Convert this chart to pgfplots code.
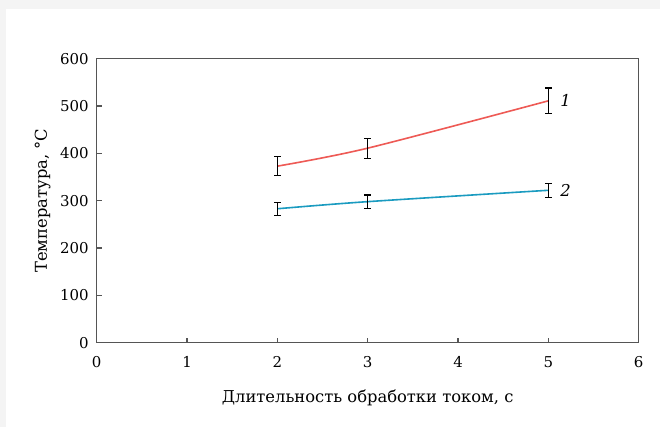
\documentclass[border=0pt]{standalone}
\usepackage{pgfplots}
\pgfplotsset{compat=1.18}
\usepackage{fontspec}
\setmainfont{DejaVu Serif}
\definecolor{redline}{HTML}{EE5A55}
\definecolor{blueline}{HTML}{1A9BC0}
\definecolor{bggray}{HTML}{F4F4F4}
\definecolor{axgray}{HTML}{555555}
\begin{document}
\begin{tikzpicture}
\path[use as bounding box, fill=bggray] (-48.35bp,-42.15bp) rectangle ++(330bp,213.5bp);
\fill[white] (-45.35bp,-42.15bp) rectangle (281.65bp,166.85bp);
\begin{axis}[
  scale only axis, width=271bp, height=142bp,
  xmin=0, xmax=6, ymin=0, ymax=600,
  xtick={0,1,...,6}, ytick={0,100,...,600},
  tick align=inside, xtick pos=bottom, ytick pos=left,
  major tick length=2.5bp,
  axis line style={axgray, line width=0.7bp},
  tick style={axgray, line width=0.6bp},
  /pgf/number format/assume math mode=true,
  ticklabel style={font=\fontsize{7.5}{9}\selectfont},
  xticklabel style={yshift=-3.5bp},
  yticklabel style={xshift=-0.5bp},
  label style={font=\fontsize{8.2}{10}\selectfont},
  xlabel={Длительность обработки током, с},
  ylabel={Температура, °С},
  xlabel style={yshift=-4bp},
  ylabel style={yshift=-2bp},
  clip=false,
]
\addplot[redline, line width=0.8bp, smooth,
  error bars/.cd, y dir=both, y explicit,
  error bar style={black, line width=0.6bp},
  error mark options={black, rotate=90, mark size=1.6bp, line width=0.6bp}]
  coordinates {(2,373) +- (0,20) (3,411) +- (0,21) (5,511) +- (0,27)};
\addplot[blueline, line width=0.8bp, smooth,
  error bars/.cd, y dir=both, y explicit,
  error bar style={black, line width=0.6bp},
  error mark options={black, rotate=90, mark size=1.6bp, line width=0.6bp}]
  coordinates {(2,283) +- (0,14) (3,298) +- (0,14) (5,322) +- (0,15)};
\node[font=\fontsize{8.2}{10}\selectfont\itshape] at (axis cs:5.19,512) {1};
\node[font=\fontsize{8.2}{10}\selectfont\itshape] at (axis cs:5.19,322) {2};
\end{axis}
\end{tikzpicture}
\end{document}
